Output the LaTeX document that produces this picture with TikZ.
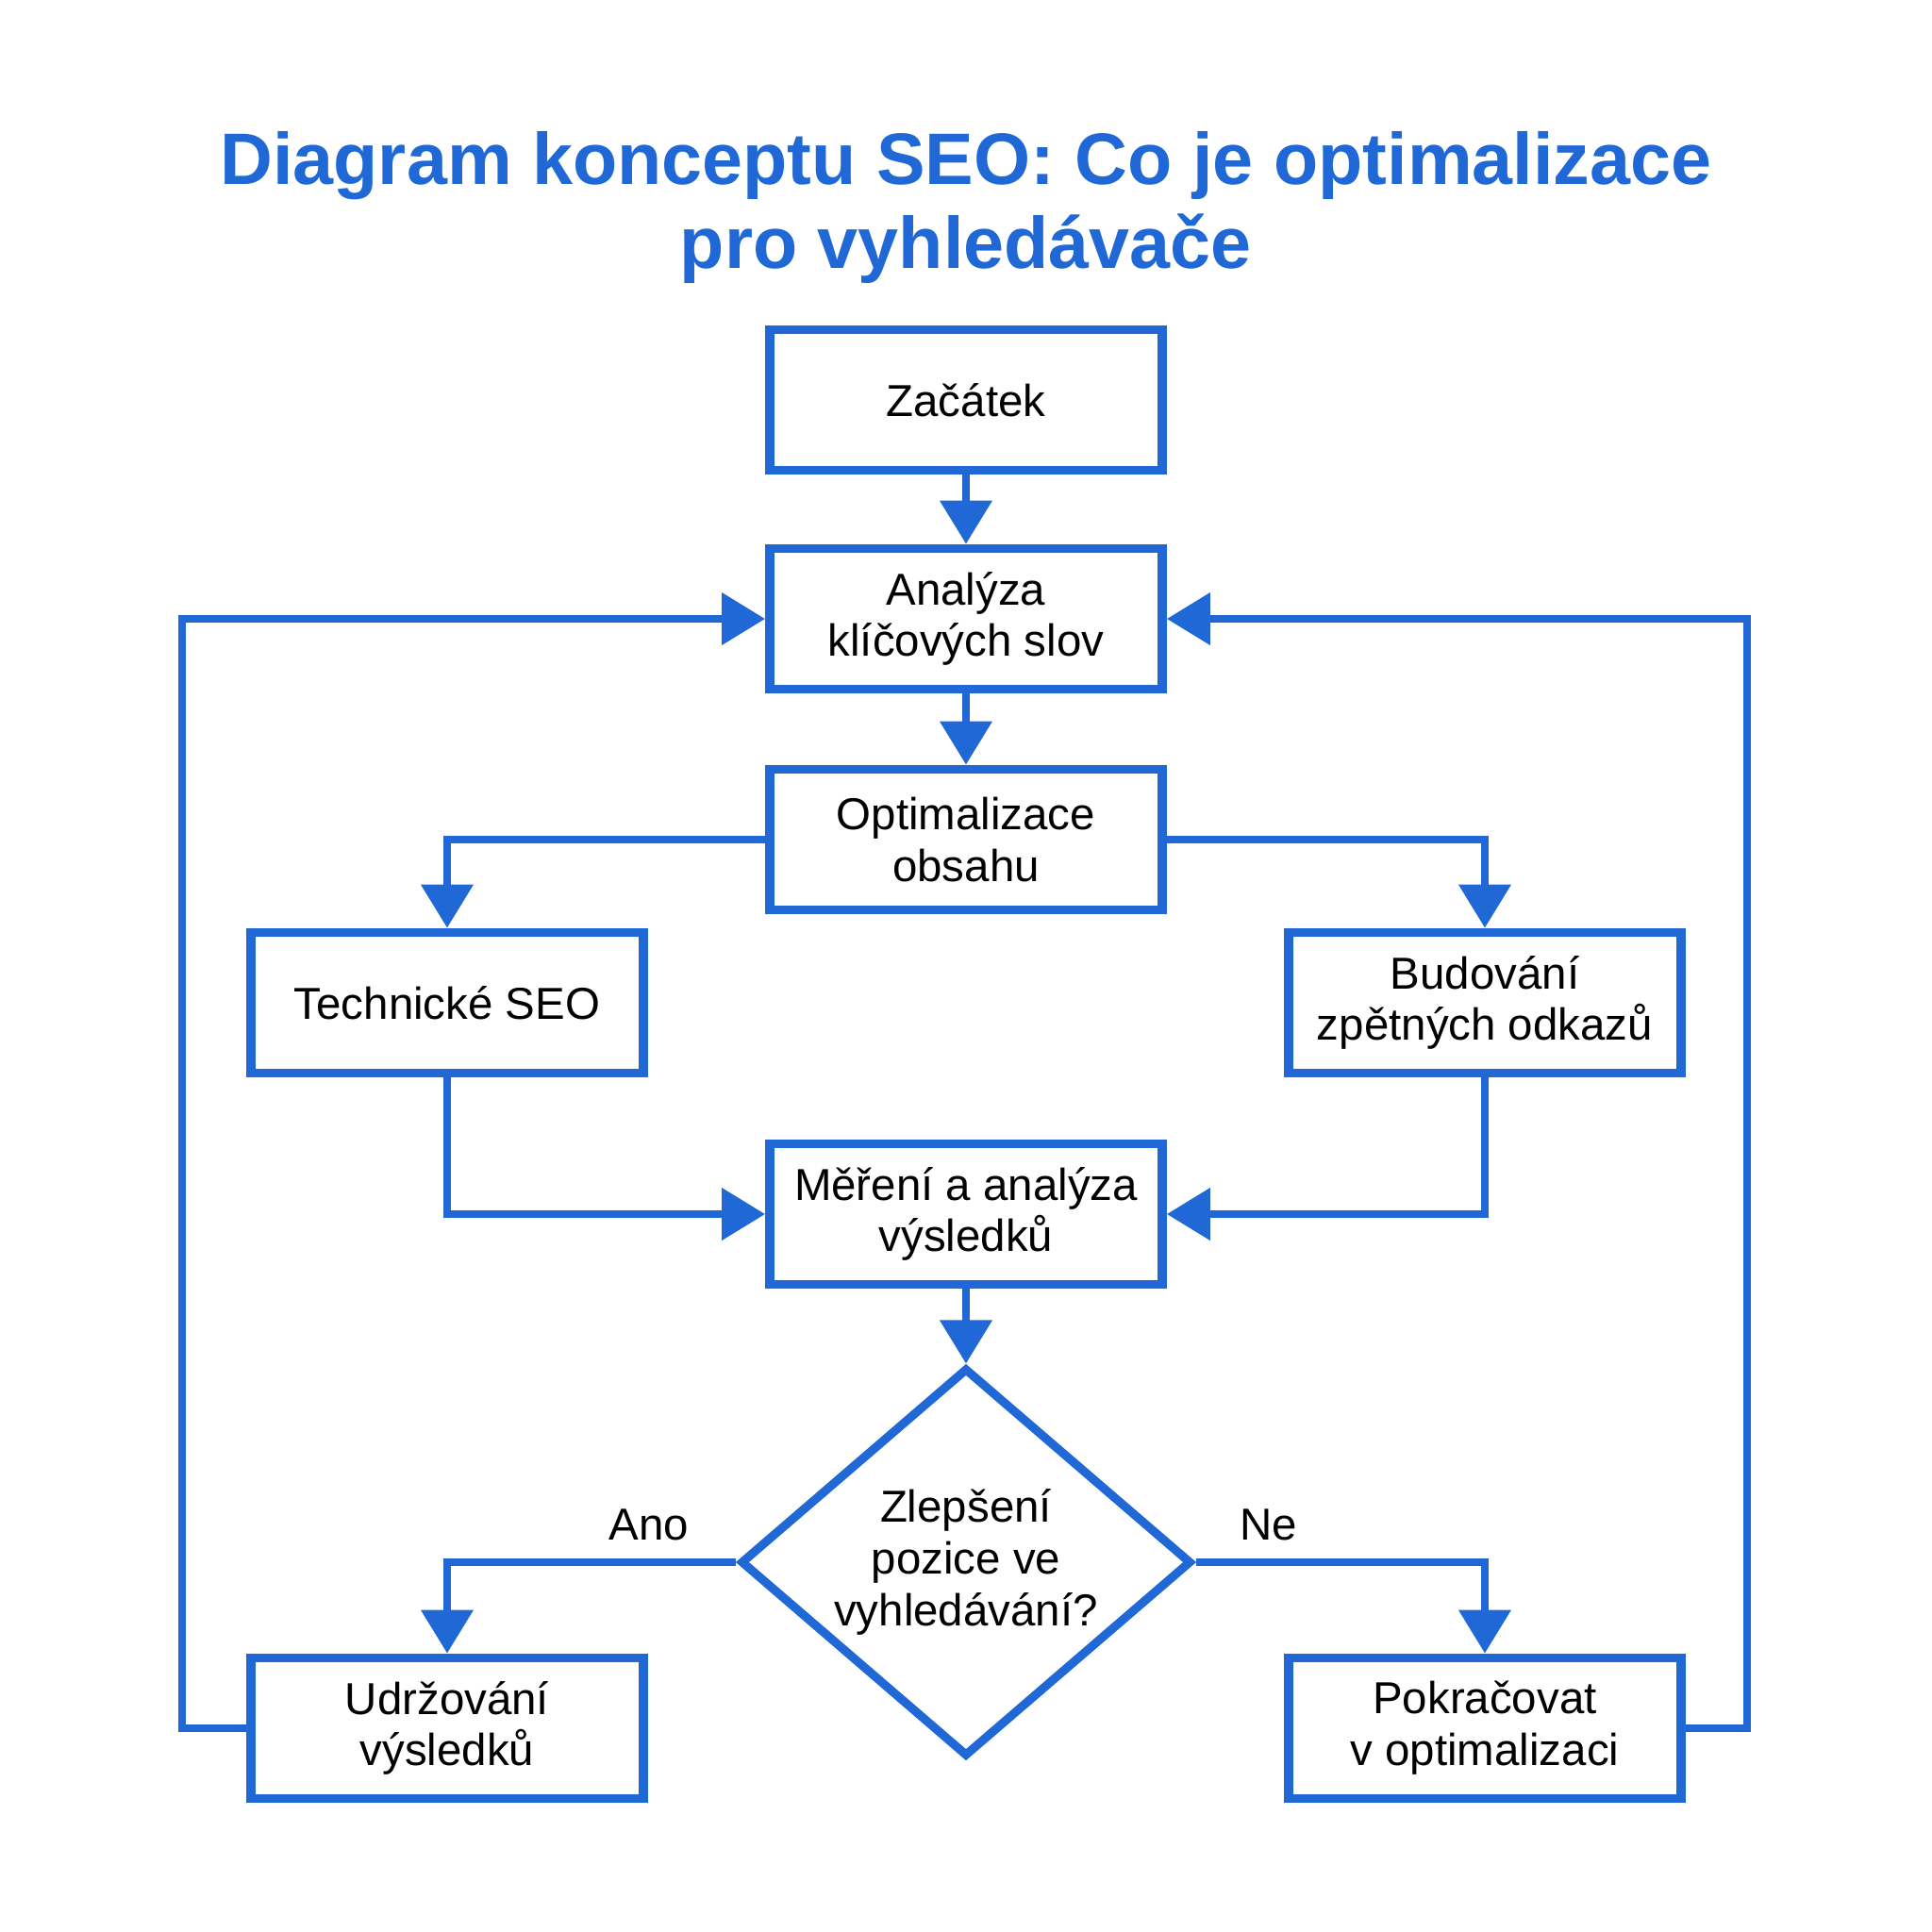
\documentclass[tikz,border=0pt]{standalone}
\usepackage{fontspec}
\setmainfont{Liberation Sans}
\usepackage{tikz}
\usetikzlibrary{shapes.geometric, arrows.meta}
\definecolor{seoblue}{RGB}{32,104,214}
\tikzstyle{box} = [rectangle, text centered, align=center, draw=seoblue,
                   line width=2.8pt, minimum width=4.16cm, minimum height=1.49cm,
                   font=\fontsize{13.5}{15.6}\selectfont, fill=white]
\tikzstyle{decision} = [diamond, aspect=1.16, text centered, align=center,
                        draw=seoblue, line width=2.6pt, minimum width=4.78cm,
                        minimum height=4.12cm, inner sep=0pt,
                        font=\fontsize{13.5}{15.6}\selectfont]
\tikzstyle{label} = [text centered, font=\fontsize{13.5}{15.6}\selectfont]
\tikzstyle{arrow} = [line width=2.2pt, color=seoblue,
                     -{Triangle[width=5.4mm, length=4.6mm]}]

\begin{document}
\begin{tikzpicture}
\useasboundingbox (-10.24cm, 4.24cm) rectangle (10.24cm, -16.24cm);

\node (title) [align=center, text=seoblue, yshift = 2.04cm,
      font=\fontsize{22}{25.5}\selectfont\bfseries]
      {Diagram konceptu SEO: Co je optimalizace\\pro vyhledávače};

\node (start) [box] {Začátek};
\node (analyza) [box, yshift = -2.32cm] {Analýza\\klíčových slov};
\node (obsah) [box, yshift = -4.66cm] {Optimalizace\\obsahu};
\node (tech) [box, xshift = -5.5cm, yshift = -6.39cm] {Technické SEO};
\node (odkazy) [box, xshift = 5.5cm, yshift = -6.39cm] {Budování\\zpětných odkazů};
\node (mereni) [box, yshift = -8.63cm] {Měření a analýza\\výsledků};
\node (zlepseni) [decision, yshift = -12.32cm] {Zlepšení\\pozice ve\\vyhledávání?};
\node (udrz) [box, xshift = -5.5cm, yshift = -14.08cm] {Udržování\\výsledků};
\node (pokr) [box, xshift = 5.5cm, yshift = -14.08cm] {Pokračovat\\v optimalizaci};

\node (ano) [label, xshift = -3.36cm, yshift = -11.92cm] {Ano};
\node (ne) [label, xshift = 3.21cm, yshift = -11.92cm] {Ne};

\coordinate (loopL) at (-8.31cm, -2.32cm);
\coordinate (loopR) at (8.28cm, -2.32cm);

\draw [arrow] (start) -- (analyza);
\draw [arrow] (analyza) -- (obsah);
\draw [arrow] (obsah.west) -| (tech.north);
\draw [arrow] (obsah.east) -| (odkazy.north);
\draw [arrow] (tech.south) |- (mereni.west);
\draw [arrow] (odkazy.south) |- (mereni.east);
\draw [arrow] (mereni) -- (zlepseni.north);
\draw [arrow] (zlepseni.west) -| (udrz.north);
\draw [arrow] (zlepseni.east) -| (pokr.north);
\draw [arrow] (udrz.west) -| (loopL) -- (analyza.west);
\draw [arrow] (pokr.east) -| (loopR) -- (analyza.east);

\end{tikzpicture}
\end{document}
